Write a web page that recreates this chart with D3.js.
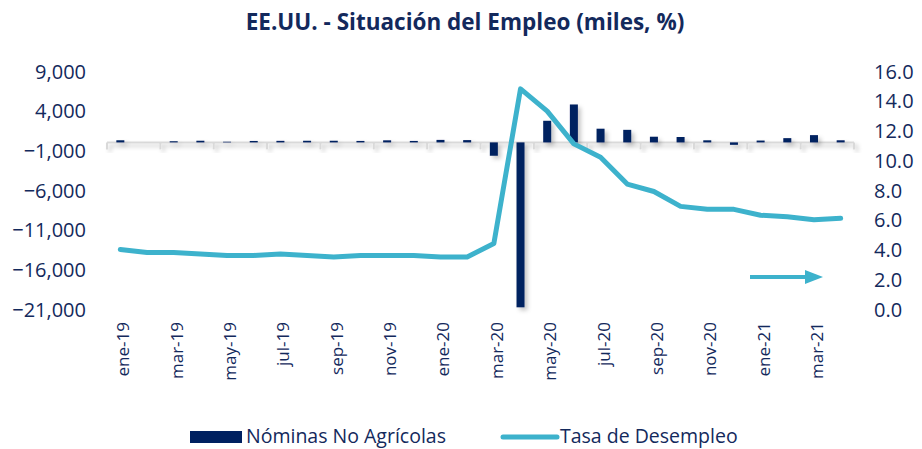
<!DOCTYPE html>
<html>
<head>
<meta charset="utf-8">
<script src="https://cdn.jsdelivr.net/npm/d3@7"></script>
<style>
  body { margin: 0; background: #fff; }
  text { font-family: "Open Sans", sans-serif; fill: #13295c; }
</style>
</head>
<body>
<div id="container"></div>
<script>
/* DATA - monthly, ene-19 .. abr-21 */
const months = ["ene-19","feb-19","mar-19","abr-19","may-19","jun-19","jul-19","ago-19","sep-19","oct-19","nov-19","dic-19",
                "ene-20","feb-20","mar-20","abr-20","may-20","jun-20","jul-20","ago-20","sep-20","oct-20","nov-20","dic-20",
                "ene-21","feb-21","mar-21","abr-21"];
/* nominas no agricolas, miles */
const payrolls = [269,1,147,210,85,182,194,207,208,185,261,184,
                  315,289,-1683,-20787,2725,4781,1726,1583,716,680,264,-306,
                  233,536,916,266];
/* tasa de desempleo, % */
const unemployment = [4.0,3.8,3.8,3.7,3.6,3.6,3.7,3.6,3.5,3.6,3.6,3.6,
                      3.5,3.5,4.4,14.8,13.3,11.1,10.2,8.4,7.9,6.9,6.7,6.7,
                      6.3,6.2,6.0,6.1];
const leftTicks = [9000,4000,-1000,-6000,-11000,-16000,-21000];
const rightTicks = [16,14,12,10,8,6,4,2,0];

const width = 922, height = 449;
const navy = "#002060", teal = "#3db2cc";

const svg = d3.select("#container").append("svg")
  .attr("width", width).attr("height", height);

/* shadow like the excel one */
const defs = svg.append("defs");
defs.append("filter").attr("id", "shadow")
  .attr("x", "-50%").attr("y", "-50%").attr("width", "200%").attr("height", "200%")
  .append("feDropShadow")
  .attr("dx", 3).attr("dy", 3).attr("stdDeviation", 2)
  .attr("flood-color", "#000").attr("flood-opacity", 0.22);

/* SCALES */
const x = d3.scaleBand().domain(months).range([107, 854]).padding(0);
const yL = d3.scaleLinear().domain([-21000, 9000]).range([309, 71]);
const yR = d3.scaleLinear().domain([0, 16]).range([309, 71]);

/* TITLE */
svg.append("text")
  .attr("x", 465).attr("y", 30)
  .attr("text-anchor", "middle")
  .attr("font-size", 22.5).attr("font-weight", "bold")
  .text("EE.UU. - Situación del Empleo (miles, %)");

/* LEFT AXIS */
const gl = svg.append("g").attr("transform", "translate(86,0)")
  .call(d3.axisLeft(yL).tickValues(leftTicks).tickSize(0).tickPadding(0)
    .tickFormat(d3.format(",")));
gl.select(".domain").remove();
gl.selectAll("text").attr("font-size", 20).attr("dy", "0.35em");

/* RIGHT AXIS */
const gr = svg.append("g").attr("transform", "translate(874,0)")
  .call(d3.axisRight(yR).tickValues(rightTicks).tickSize(0).tickPadding(0)
    .tickFormat(d3.format(".1f")));
gr.select(".domain").remove();
gr.selectAll("text").attr("font-size", 20).attr("dy", "0.35em");

/* ZERO LINE + TICKS */
const zero = yL(0);
const axisG = svg.append("g").attr("filter", "url(#shadow)");
axisG.append("line")
  .attr("x1", x.range()[0]).attr("x2", x.range()[1])
  .attr("y1", zero).attr("y2", zero)
  .attr("stroke", "#d9d9d9").attr("stroke-width", 2);
const tickIdx = d3.range(0, months.length + 1, 2);
axisG.selectAll(".xt").data(tickIdx).join("line")
  .attr("class", "xt")
  .attr("x1", i => x.range()[0] + i * x.step())
  .attr("x2", i => x.range()[0] + i * x.step())
  .attr("y1", zero).attr("y2", zero + 7)
  .attr("stroke", "#d9d9d9").attr("stroke-width", 2);

/* BARS */
const bw = x.bandwidth() * 0.3;
svg.append("g").attr("filter", "url(#shadow)")
  .selectAll(".bar").data(payrolls).join("rect")
  .attr("class", "bar")
  .attr("x", (d, i) => x(months[i]) + (x.bandwidth() - bw) / 2)
  .attr("y", d => Math.min(yL(d), zero))
  .attr("width", bw)
  .attr("height", d => Math.abs(yL(d) - zero))
  .attr("fill", navy);

/* X LABELS */
svg.append("g").selectAll(".xl")
  .data(months.filter((m, i) => i % 2 === 0 && i < 27)).join("text")
  .attr("class", "xl")
  .attr("transform", d => `translate(${x(d) + x.bandwidth() / 2 + 9},322) rotate(-90)`)
  .attr("text-anchor", "end")
  .attr("font-size", 17)
  .text(d => d);

/* LINE */
const line = d3.line()
  .x((d, i) => x(months[i]) + x.bandwidth() / 2)
  .y(d => yR(d));
svg.append("path").datum(unemployment)
  .attr("d", line)
  .attr("fill", "none").attr("stroke", teal)
  .attr("stroke-width", 5).attr("stroke-linejoin", "round").attr("stroke-linecap", "round");

/* ARROW pointing to right axis */
svg.append("line")
  .attr("x1", 750).attr("x2", 808).attr("y1", 277).attr("y2", 277)
  .attr("stroke", teal).attr("stroke-width", 4);
svg.append("path")
  .attr("d", "M805,270 L823,277 L805,284 Z")
  .attr("fill", teal);

/* LEGEND */
const lg = svg.append("g");
lg.append("rect").attr("x", 190).attr("y", 431).attr("width", 52).attr("height", 12).attr("fill", navy);
lg.append("text").attr("x", 246).attr("y", 443).attr("font-size", 19.5).text("Nóminas No Agrícolas");
lg.append("line").attr("x1", 503).attr("x2", 557).attr("y1", 437).attr("y2", 437)
  .attr("stroke", teal).attr("stroke-width", 5).attr("stroke-linecap", "round");
lg.append("text").attr("x", 560).attr("y", 443).attr("font-size", 19.5).text("Tasa de Desempleo");
</script>
</body>
</html>
